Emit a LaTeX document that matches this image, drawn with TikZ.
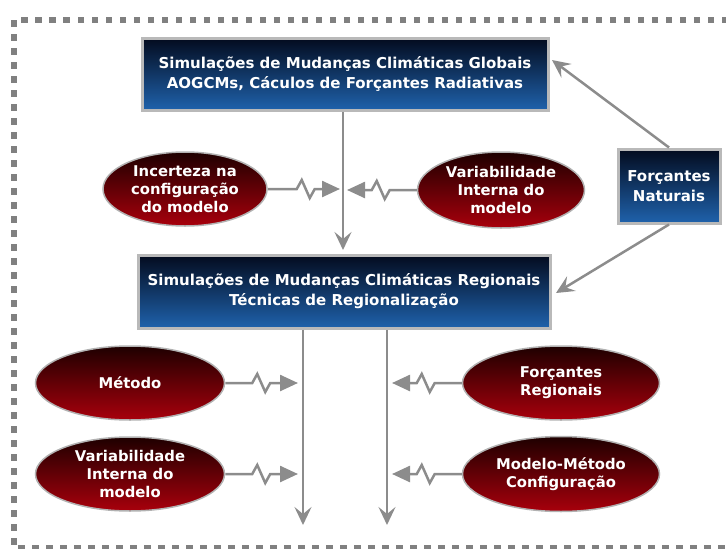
\documentclass[tikz,border=0pt]{standalone}
\usepackage{fontspec}
\setmainfont{DejaVu Sans}
\usetikzlibrary{shapes.geometric}
\usetikzlibrary{arrows.meta}
\definecolor{navy}{HTML}{030B1E}
\definecolor{ocean}{HTML}{1F62AC}
\definecolor{wine}{HTML}{1E0000}
\definecolor{crimson}{HTML}{A8000C}
\definecolor{rim}{HTML}{8C8C8C}
\tikzstyle{caixa}=[rectangle, top color=navy, bottom color=ocean, draw=gray!55, line width=3pt, text=white, font=\bfseries\fontsize{15}{20}\selectfont, align=center, inner sep=0pt]
\tikzstyle{bolha}=[ellipse, top color=wine, bottom color=crimson, draw=gray!60, line width=1.5pt, text=white, font=\bfseries\fontsize{14.8}{18}\selectfont, align=center, inner sep=0pt]
\tikzstyle{seta}=[draw=rim, line width=2.5pt]
\tikzstyle{zseta}=[seta, line join=miter, -{Triangle[length=18pt,width=16pt]}]
\tikzstyle{vseta}=[seta, -{Stealth[length=18pt,width=17pt,inset=7pt]}]

\begin{document}
\begin{tikzpicture}[x=1pt, y=-1pt]
        \useasboundingbox (0,0) rectangle (726,549);
        \clip (0,0) rectangle (726,549);
        \draw[gray, line width=6.5pt, dash pattern=on 6.5pt off 7.5pt] (14,20) rectangle (760,548);
        \node[caixa, minimum width=406pt, minimum height=72pt] (glob) at (345,74) {Simulações de Mudanças Climáticas Globais\\AOGCMs, Cáculos de Forçantes Radiativas};
        \node[caixa, minimum width=412pt, minimum height=73pt] (reg) at (344,291.5) {Simulações de Mudanças Climáticas Regionais\\Técnicas de Regionalização};
        \node[caixa, minimum width=102pt, minimum height=74pt] (nat) at (669,186) {Forçantes\\Naturais};
        \node[bolha, minimum width=164pt, minimum height=74pt] (inc) at (185,189) {Incerteza na\\configuração\\do modelo};
        \node[bolha, minimum width=167pt, minimum height=76pt] (vint) at (501,190) {Variabilidade\\Interna do\\modelo};
        \node[bolha, minimum width=189pt, minimum height=74pt] (met) at (130,383) {Método};
        \node[bolha, minimum width=189pt, minimum height=74pt] (vreg) at (130,474) {Variabilidade\\Interna do\\modelo};
        \node[bolha, minimum width=197pt, minimum height=74pt] (freg) at (561,383) {Forçantes\\Regionais};
        \node[bolha, minimum width=197pt, minimum height=75pt] (mmc) at (561,474) {Modelo-Método\\Configuração};
        \coordinate (a1) at (343,250);
        \coordinate (b1) at (303,525);
        \coordinate (b2) at (387,525);
        \coordinate (n1) at (552,60);
        \coordinate (n2) at (556,293);
        \draw[vseta] (glob.south -| a1) -- (a1);
        \draw[vseta] (reg.south -| b1) -- (b1);
        \draw[vseta] (reg.south -| b2) -- (b2);
        \draw[vseta] (nat.north) -- (n1);
        \draw[vseta] (nat.south) -- (n2);
        \draw[zseta] (inc.east) -- ++(29,0) -- ++(5,-9) -- ++(8,18) -- ++(5,-9) -- (340,189);
        \draw[zseta] (vint.west) -- ++(-27,0) -- ++(-5,9) -- ++(-8,-18) -- ++(-5,9) -- (347,190);
        \draw[zseta] (met.east) -- ++(27,0) -- ++(5,-9) -- ++(8,18) -- ++(5,-9) -- (298,383);
        \draw[zseta] (vreg.east) -- ++(27,0) -- ++(5,-9) -- ++(8,18) -- ++(5,-9) -- (298,474);
        \draw[zseta] (freg.west) -- ++(-27,0) -- ++(-5,9) -- ++(-8,-18) -- ++(-5,9) -- (392,383);
        \draw[zseta] (mmc.west) -- ++(-27,0) -- ++(-5,9) -- ++(-8,-18) -- ++(-5,9) -- (392,474);
    \end{tikzpicture}
\end{document}
